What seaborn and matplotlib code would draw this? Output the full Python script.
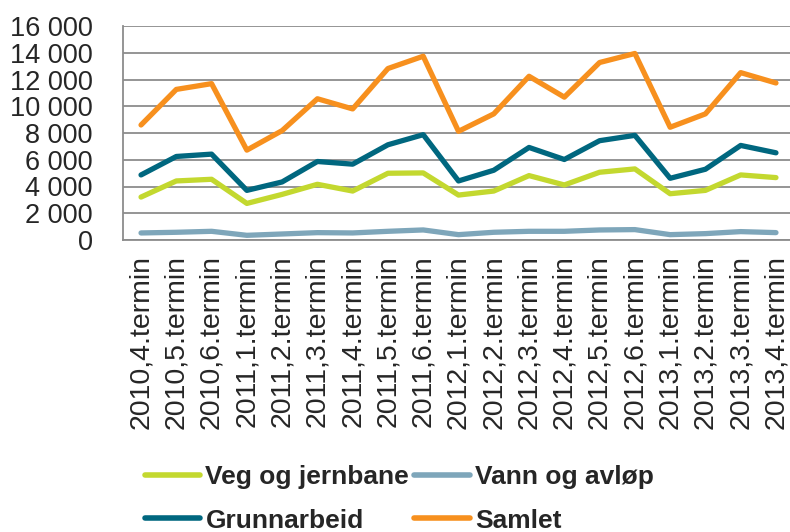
import matplotlib
matplotlib.use("Agg")
import matplotlib.pyplot as plt
import seaborn as sns
import pandas as pd
from matplotlib.ticker import FuncFormatter, FixedLocator
from matplotlib.lines import Line2D

periods = ["2010,4.termin", "2010,5.termin", "2010,6.termin", "2011,1.termin",
           "2011,2.termin", "2011,3.termin", "2011,4.termin", "2011,5.termin",
           "2011,6.termin", "2012,1.termin", "2012,2.termin", "2012,3.termin",
           "2012,4.termin", "2012,5.termin", "2012,6.termin", "2013,1.termin",
           "2013,2.termin", "2013,3.termin", "2013,4.termin"]

veg = [3210, 4415, 4540, 2735, 3410, 4165, 3660, 4990, 5015, 3360,
       3660, 4815, 4115, 5065, 5315, 3460, 3710, 4865, 4665]
vann = [527, 577, 650, 350, 450, 550, 527, 650, 752, 400,
        577, 650, 650, 750, 777, 400, 477, 627, 552]
grunn = [4865, 6245, 6420, 3710, 4340, 5870, 5670, 7120, 7875, 4415,
         5215, 6920, 6020, 7425, 7825, 4615, 5290, 7070, 6520]
samlet = [8600, 11260, 11690, 6720, 8180, 10560, 9800, 12820, 13740, 8125,
          9430, 12240, 10680, 13270, 13945, 8430, 9430, 12515, 11740]

series_names = ["Veg og jernbane", "Vann og avløp", "Grunnarbeid", "Samlet"]
colors = ["#C3D82F", "#7EA6BA", "#00677F", "#F7901E"]
y_ticks = [0, 2000, 4000, 6000, 8000, 10000, 12000, 14000, 16000]

frames = []
for name, vals in zip(series_names, [veg, vann, grunn, samlet]):
    frames.append(pd.DataFrame({"periode": periods, "verdi": vals, "serie": name}))
df = pd.concat(frames, ignore_index=True)

sns.set_theme(style="white")
plt.rcParams["font.family"] = ["Liberation Sans", "DejaVu Sans"]

fig = plt.figure(figsize=(7.9, 5.32), dpi=100)
ax = fig.add_axes([123.4 / 790, 1 - 240 / 532, (793.6 - 123.4) / 790, (240 - 26) / 532])

sns.lineplot(data=df, x="periode", y="verdi", hue="serie", hue_order=series_names,
             palette=colors, linewidth=3.8, sort=False, ax=ax, legend=False)

n = len(periods)
ax.set_xlim(-0.5, n - 0.5)
ax.set_ylim(0, 16000)
ax.set_xlabel("")
ax.set_ylabel("")

ax.yaxis.set_major_locator(FixedLocator(y_ticks))
ax.yaxis.set_major_formatter(FuncFormatter(lambda v, p: f"{int(v):,}".replace(",", " ")))
ax.grid(axis="y", color="#8C8C8C", linewidth=1.3)
ax.grid(axis="x", visible=False)
ax.set_axisbelow(True)

ax.set_xticks(range(n))
ax.set_xticklabels(periods, rotation=90)
ax.tick_params(axis="x", which="major", length=0, pad=11, labelsize=20.5)
ax.set_xticks([i - 0.5 for i in range(n + 1)], minor=True)
ax.tick_params(axis="x", which="minor", length=6, width=1.3, color="#8C8C8C", direction="out")
ax.tick_params(axis="y", which="major", length=8, width=1.3, color="#8C8C8C",
               direction="out", labelsize=19.5, pad=14)

for side in ["top", "right"]:
    ax.spines[side].set_visible(False)
for side in ["left", "bottom"]:
    ax.spines[side].set_color("#8C8C8C")
    ax.spines[side].set_linewidth(1.3)

# legend (row-major order as in reference)
handles = {name: Line2D([], [], color=c, linewidth=4.0, solid_capstyle="round")
           for name, c in zip(series_names, colors)}
order = ["Veg og jernbane", "Grunnarbeid", "Vann og avløp", "Samlet"]
leg = fig.legend([handles[o] for o in order], order, ncol=2, loc="upper left",
                 bbox_to_anchor=(121 / 790, 1 - 441 / 532), frameon=False,
                 handlelength=2.1, handletextpad=0.2, columnspacing=0.2,
                 labelspacing=0.75,
                 prop={"family": ["Liberation Sans", "DejaVu Sans"],
                       "weight": "bold", "size": 19})

fig.savefig("out.png", dpi=100)
